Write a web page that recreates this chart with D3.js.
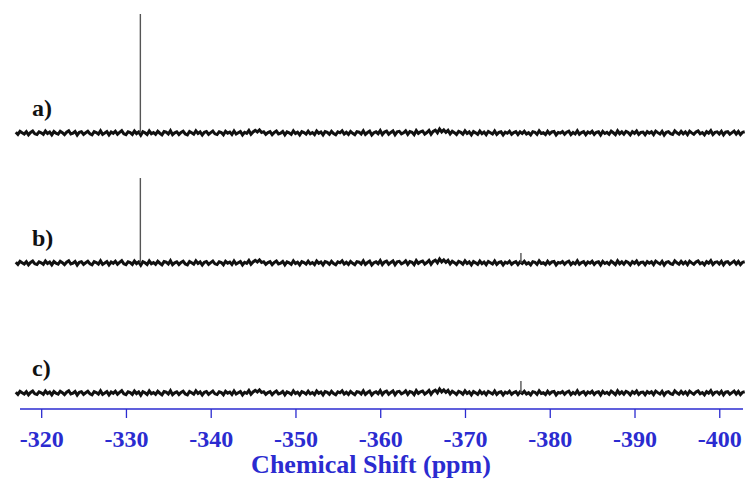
<!DOCTYPE html>
<html>
<head>
<style>
body { margin: 0; background: #fff; }
</style>
</head>
<body>
<div id="chart"></div>
<script src="https://d3js.org/d3.v7.min.js"></script>
<script>
const width = 748, height = 483;

const traceNames = ["a)", "b)", "c)"];

// shared baseline noise, sampled every 0.25 ppm starting at -317 ppm
const noiseStart = -317, noiseStep = -0.25;
const noise = [
  0.6,-1.2,1.4,0.2,-0.9,1.1,-1.5,0.4,1.6,-0.7,-1.3,0.9,0.1,-1.1,1.7,-0.4,0.8,-1.6,1.2,-0.2,
  -1.0,1.5,0.3,-1.4,0.7,1.9,-0.8,-0.2,1.3,-1.7,0.5,1.0,-1.2,0.2,1.4,-0.6,-1.5,1.1,0.4,-0.9,
  1.8,-1.1,0.0,1.2,-1.6,0.8,-0.3,1.5,-1.0,0.6,2.0,-0.7,-1.4,1.0,0.3,-1.2,1.6,-0.5,0.9,-1.8,
  1.1,0.2,-1.3,1.7,-0.6,0.4,-1.1,1.4,-0.2,-1.6,1.2,0.7,-0.9,1.9,-1.4,0.1,1.0,-1.2,0.5,1.5,
  -0.8,-1.5,1.3,0.2,-1.0,1.8,-0.4,0.9,-1.7,0.6,1.2,-1.1,0.3,1.6,-0.7,-1.3,1.0,0.4,-1.5,1.4,
  -0.1,0.8,-1.2,1.7,-0.9,0.2,1.3,-1.6,0.6,-0.3,2.1,-1.0,0.9,2.2,0.8,2.6,0.4,1.1,-1.1,0.3,
  1.2,-1.4,0.5,1.6,-0.8,-0.2,1.3,-1.5,0.9,0.1,-1.2,1.8,-0.5,0.7,-1.6,1.1,0.3,-1.0,1.5,-0.7,
  0.4,-1.3,1.7,-0.2,0.9,-1.6,1.2,0.5,-1.1,1.4,-0.4,-1.5,1.0,0.2,1.8,-0.9,0.6,-1.2,1.3,-0.3,
  -1.4,1.1,0.7,-0.8,1.9,-1.2,0.4,1.5,-1.7,0.3,1.0,-0.6,2.0,-1.3,0.8,1.6,-1.0,0.5,1.7,-1.5,
  0.9,1.4,-0.7,0.2,1.8,-1.1,1.2,0.6,-1.4,2.1,-0.3,1.0,1.7,-0.9,0.4,2.2,-1.0,1.3,2.4,0.2,
  3.4,0.9,2.6,0.5,2.2,-0.8,1.5,0.3,-1.2,1.4,0.6,-1.0,1.8,-0.4,0.9,-1.5,1.2,0.1,-1.1,1.6,
  -0.6,0.8,-1.4,1.3,0.2,-0.9,1.7,-1.2,0.5,1.0,-1.6,0.7,-0.2,1.5,-1.1,0.4,1.2,-1.3,0.9,-0.5,
  1.4,-0.8,0.3,-1.5,1.1,0.6,-1.2,1.8,-0.4,0.2,-1.3,1.5,-0.7,0.9,1.3,-1.6,0.5,-0.1,1.2,-1.0,
  0.7,1.6,-1.3,0.4,-0.8,1.9,-1.1,0.3,1.2,-1.5,0.8,-0.2,1.4,-1.2,0.6,1.0,-1.7,1.3,-0.4,0.5,
  -1.1,1.5,0.2,-1.4,1.8,-0.6,0.9,-1.0,1.3,0.4,-1.6,1.1,-0.3,1.7,-1.2,0.5,0.8,-1.5,1.2,-0.2,
  1.0,-1.3,1.6,0.3,-0.9,1.4,-1.7,0.6,1.1,-0.5,-1.2,1.8,0.2,-1.0,1.3,-0.7,0.9,-1.4,1.5,0.1,
  -1.1,0.8,1.7,-0.6,0.4,-1.5,1.2,-0.2,1.9,-1.3,0.5,1.0,-0.8,1.4,-1.6,0.7,1.1,-1.0,0.3,1.6,
  -0.9,1.2,-1.4,0.6,1.0
];

// sharp peaks: position (ppm) and height per trace (a, b, c); peak a = 100
const peakPpm = [-331.7, -376.6];
const peakA = [100, 0];
const peakB = [71.4, 8.4];
const peakC = [0, 10];
const peaks = [peakA, peakB, peakC];

const tickValues = [-320, -330, -340, -350, -360, -370, -380, -390, -400];

const serif = "'Liberation Serif', 'Times New Roman', 'DejaVu Serif', serif";

const svg = d3.select("#chart").append("svg")
  .attr("width", width).attr("height", height)
  .style("display", "block");

svg.append("rect").attr("width", width).attr("height", height).attr("fill", "#fff");

const x = d3.scaleLinear().domain([-317.5, -402.8]).range([20, 743]);

// one y scale per trace, 119 px for 100 units
const baselines = [133, 263, 393];
const yScales = baselines.map(b => d3.scaleLinear().domain([0, 100]).range([b, b - 119]));

const noisePts = noise.map((v, i) => ({ ppm: noiseStart + i * noiseStep, v }));

const line = d3.line();

traceNames.forEach((name, t) => {
  const y = yScales[t];
  svg.append("path")
    .attr("d", line(noisePts.map(p => [x(p.ppm), y(p.v)])))
    .attr("fill", "none")
    .attr("stroke", "#111")
    .attr("stroke-width", 3)
    .attr("stroke-linejoin", "miter");

  peaks[t].forEach((h, k) => {
    if (h <= 0) return;
    svg.append("line")
      .attr("x1", x(peakPpm[k])).attr("x2", x(peakPpm[k]))
      .attr("y1", y(0)).attr("y2", y(h))
      .attr("stroke", "#555")
      .attr("stroke-width", 1.4);
  });

  svg.append("text")
    .attr("x", 32)
    .attr("y", baselines[t] - 17)
    .style("font-family", serif)
    .attr("font-weight", "bold")
    .attr("font-size", 24)
    .attr("fill", "#111")
    .text(name);
});

// x axis
const axisY = 409;
const blue = "#2b2bd0";
const axisG = svg.append("g").attr("transform", `translate(0,${axisY})`);

axisG.call(d3.axisBottom(x).tickValues(d3.range(-318, -403, -1)).tickSize(4).tickFormat(""))
  .call(g => g.select(".domain").remove());
axisG.call(d3.axisBottom(x).tickValues(tickValues).tickSize(9).tickFormat(d => d).tickPadding(12));
axisG.selectAll("line").attr("stroke", blue).attr("stroke-width", 1.3);
axisG.selectAll(".domain").attr("stroke", blue).attr("stroke-width", 1.5)
  .attr("d", `M${x.range()[0]},0H${x.range()[1]}`);
axisG.selectAll("text")
  .attr("fill", blue)
  .style("font-family", serif)
  .attr("font-weight", "bold")
  .attr("font-size", 24);

svg.append("text")
  .attr("x", 371)
  .attr("y", 473)
  .attr("text-anchor", "middle")
  .style("font-family", serif)
  .attr("font-weight", "bold")
  .attr("font-size", 26)
  .attr("fill", blue)
  .text("Chemical Shift (ppm)");
</script>
</body>
</html>
